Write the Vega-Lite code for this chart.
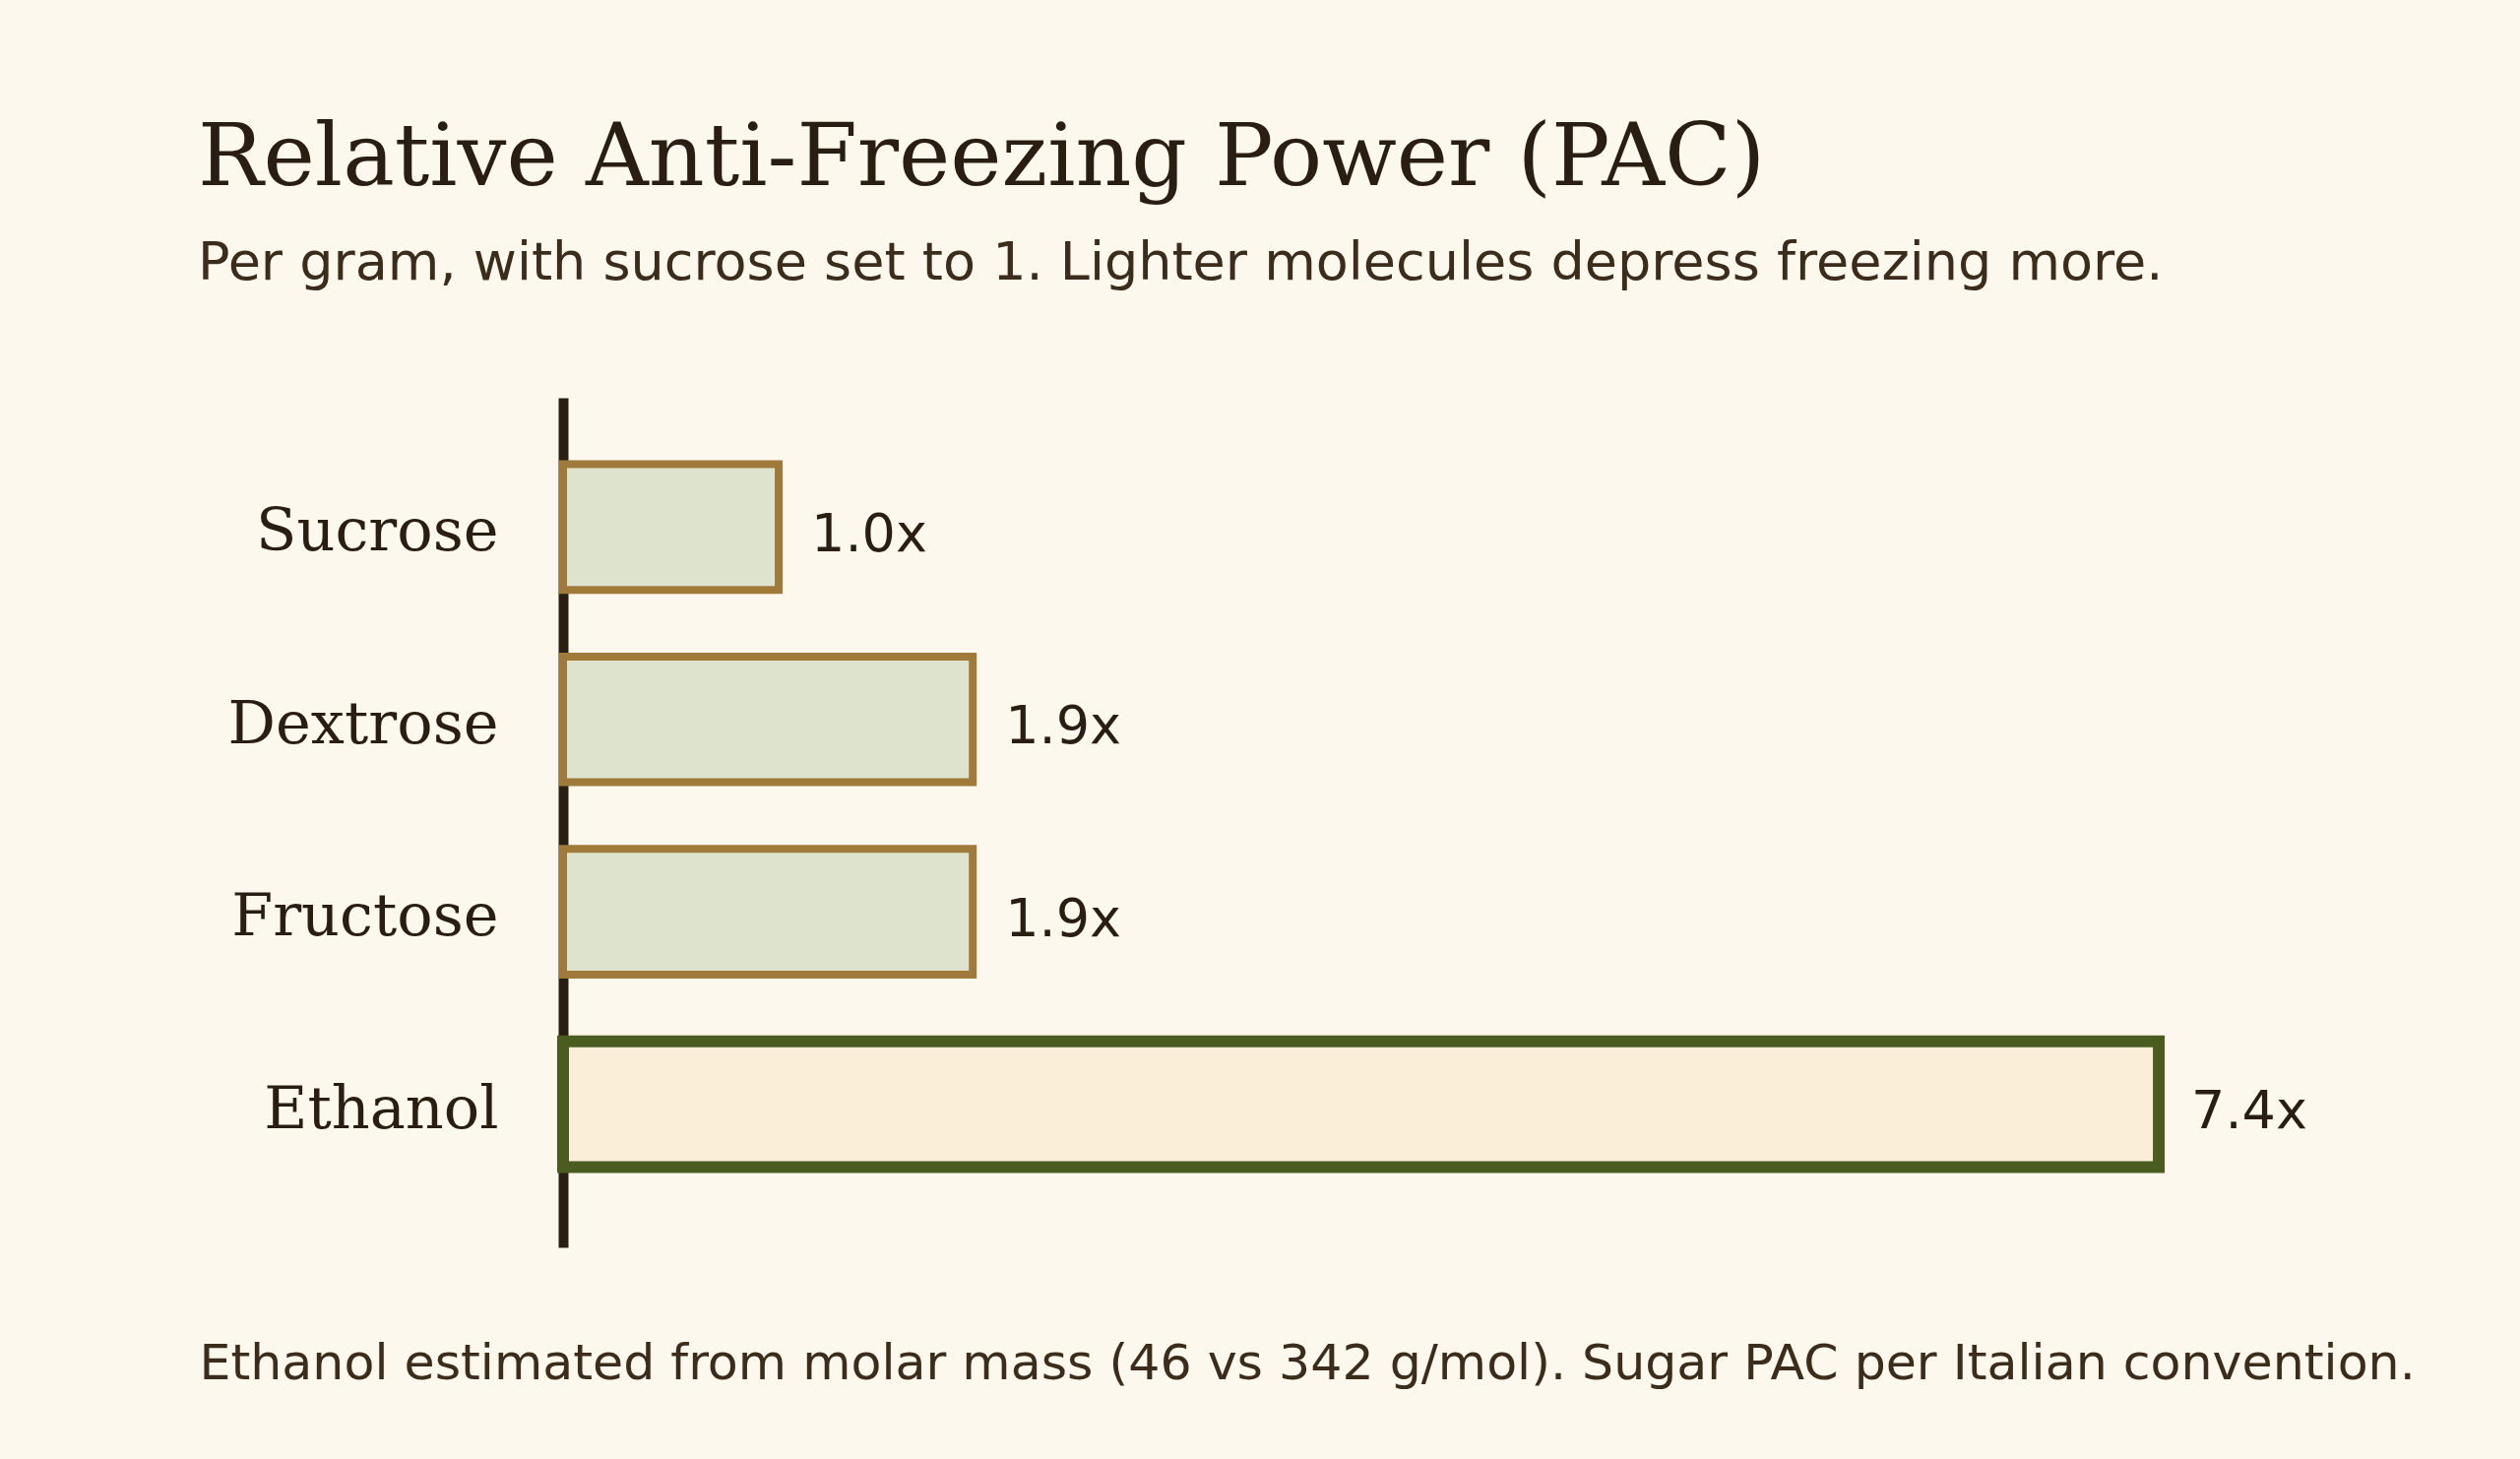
{
  "$schema": "https://vega.github.io/schema/vega-lite/v6.json",
  "autosize": {"type": "none"},
  "width": 1862,
  "height": 863,
  "padding": {"left": 572, "top": 404, "right": 126, "bottom": 215},
  "background": "#fcf8ed",
  "config": {"view": {"stroke": null}},
  "title": {
    "text": "Relative Anti-Freezing Power (PAC)",
    "subtitle": "Per gram, with sucrose set to 1. Lighter molecules depress freezing more.",
    "anchor": "start",
    "frame": "group",
    "dx": -371,
    "offset": 108,
    "font": "DejaVu Serif",
    "fontSize": 88.4,
    "fontWeight": "normal",
    "color": "#2a1e12",
    "subtitleFont": "DejaVu Sans",
    "subtitleFontSize": 54,
    "subtitleColor": "#3b2c1c",
    "subtitlePadding": 35
  },
  "data": {
    "values": [
      {"name": "Sucrose", "pac": 1.0, "label": "1.0x", "kind": "sugar"},
      {"name": "Dextrose", "pac": 1.9, "label": "1.9x", "kind": "sugar"},
      {"name": "Fructose", "pac": 1.9, "label": "1.9x", "kind": "sugar"},
      {"name": "Ethanol", "pac": 7.4, "label": "7.4x", "kind": "alcohol"}
    ]
  },
  "encoding": {
    "y": {
      "field": "name",
      "type": "nominal",
      "sort": null,
      "scale": {"paddingInner": 0.3465, "paddingOuter": 0.3816, "align": 0.4527},
      "axis": {
        "title": null,
        "ticks": false,
        "domain": true,
        "domainWidth": 10,
        "domainColor": "#2a1e12",
        "labelFont": "DejaVu Serif",
        "labelFontSize": 60.5,
        "labelColor": "#2a1e12",
        "labelPadding": 66,
        "labelOffset": 6,
        "labelLimit": 0,
        "grid": false
      }
    },
    "x": {
      "field": "pac",
      "type": "quantitative",
      "scale": {"domain": [0, 8.5], "nice": false, "zero": true},
      "axis": {
        "labels": false,
        "ticks": false,
        "domain": false,
        "grid": false,
        "title": "Ethanol estimated from molar mass (46 vs 342 g/mol). Sugar PAC per Italian convention.",
        "titleFont": "DejaVu Sans",
        "titleFontSize": 50.6,
        "titleFontWeight": "normal",
        "titleColor": "#3b2c1c",
        "titleAnchor": "start",
        "titleAlign": "left",
        "titleX": -370,
        "titleY": 133,
        "titleBaseline": "alphabetic",
        "titleLimit": 0
      }
    }
  },
  "layer": [
    {
      "mark": {"type": "bar"},
      "encoding": {
        "fill": {
          "field": "kind",
          "type": "nominal",
          "scale": {"domain": ["sugar", "alcohol"], "range": ["#dde3cc", "#faeed8"]},
          "legend": null
        },
        "stroke": {
          "field": "kind",
          "type": "nominal",
          "scale": {"domain": ["sugar", "alcohol"], "range": ["#a07a3a", "#4a5c20"]},
          "legend": null
        },
        "strokeWidth": {
          "condition": {"test": "datum.kind === 'alcohol'", "value": 12},
          "value": 8
        }
      }
    },
    {
      "mark": {
        "type": "text",
        "align": "left",
        "baseline": "middle",
        "dx": 33,
        "dy": 8.5,
        "font": "DejaVu Sans",
        "fontSize": 54,
        "color": "#2a1e12"
      },
      "encoding": {
        "text": {"field": "label"}
      }
    }
  ]
}
